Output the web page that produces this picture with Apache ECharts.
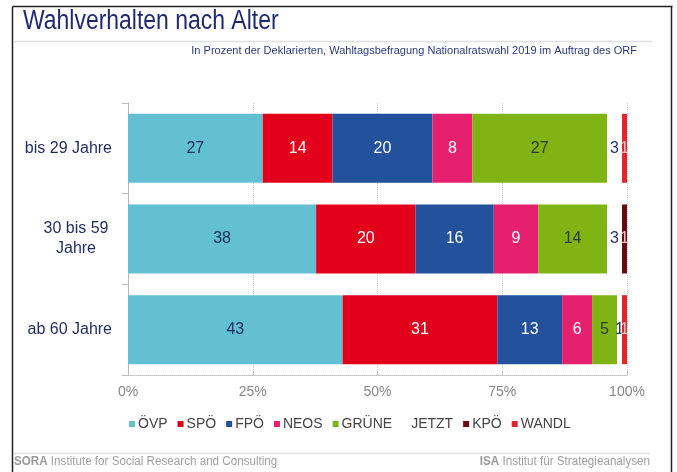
<!DOCTYPE html>
<html>
<head>
<meta charset="utf-8">
<script src="https://cdn.jsdelivr.net/npm/echarts@6/dist/echarts.min.js"></script>
<style>
  html, body { margin: 0; padding: 0; background: #fff; }
  #chart { width: 677px; height: 472px; }
</style>
</head>
<body>
<div id="chart"></div>
<script>
// age groups, top to bottom
const ageGroups = ['bis 29 Jahre', '30 bis 59 Jahre', 'ab 60 Jahre'];
const parties = ['ÖVP', 'SPÖ', 'FPÖ', 'NEOS', 'GRÜNE', 'JETZT', 'KPÖ', 'WANDL'];

// shares in % per age group
const oevp  = [27, 37.7, 43];
const spoe  = [14, 19.9, 31];
const fpoe  = [20, 15.7, 13];
const neos  = [8, 8.9, 6];
const gruene = [27, 13.8, 5];
const jetzt = [3, 3, 1];
const kpoe  = [0, 1, 0];
const wandl = [1, 0, 1];

const xTicks = [0, 25, 50, 75, 100];

const partyValues = [oevp, spoe, fpoe, neos, gruene, jetzt, kpoe, wandl];
const partyColors = ['#62c0d2', '#e2001a', '#23519c', '#e4206f', '#7fb414', '#ffffff', '#650b12', '#e3262c'];
const labelColors = ['#1f3160', '#ffffff', '#ffffff', '#ffffff', '#2c3b34', '#26356a', '#f3c4c4', '#f3c4c4'];

const chart = echarts.init(document.getElementById('chart'));

const series = parties.map((p, i) => ({
    name: p,
    type: 'bar',
    stack: 'total',
    barWidth: 69,
    data: partyValues[i],
    itemStyle: { color: partyColors[i] },
    label: {
        show: true,
        position: 'inside',
        color: labelColors[i],
        fontSize: 16,
        fontFamily: 'Liberation Sans',
        formatter: (d) => d.value > 0 ? Math.round(d.value) : ''
    },
    emphasis: { disabled: true }
}));

chart.setOption({
    animation: false,
    grid: { left: 128, right: 50, top: 103, bottom: 97, containLabel: false },
    legend: {
        data: parties,
        left: 124,
        top: 412,
        icon: 'rect',
        itemWidth: 6,
        itemHeight: 6,
        itemGap: 10,
        textStyle: { fontSize: 14, color: '#444', fontFamily: 'Liberation Sans', padding: [0, 0, 0, -2] }
    },
    xAxis: {
        type: 'value',
        min: 0,
        max: 100,
        interval: 25,
        axisLine: { show: true, lineStyle: { color: '#bbb', type: 'dotted' } },
        axisTick: { show: true, inside: true, length: 4, lineStyle: { color: '#bbb' } },
        splitLine: { show: true, lineStyle: { color: '#ccc', type: 'dotted' } },
        axisLabel: {
            margin: 10,
            fontSize: 14,
            color: '#888',
            fontFamily: 'Liberation Sans',
            formatter: (v) => xTicks.includes(v) ? v + '%' : ''
        }
    },
    yAxis: {
        type: 'category',
        data: ageGroups,
        inverse: true,
        axisLine: { show: true, lineStyle: { color: '#bbb' } },
        axisTick: { show: true, length: 6, lineStyle: { color: '#bbb' } },
        axisLabel: {
            margin: 16,
            fontSize: 16,
            color: '#1f2a5c',
            fontFamily: 'Liberation Sans',
            formatter: (v) => v === '30 bis 59 Jahre' ? '{c|30 bis 59}\n{c|Jahre}' : v,
            rich: { c: { width: 72, align: 'center', fontSize: 16, color: '#1f2a5c', fontFamily: 'Liberation Sans', lineHeight: 20 } }
        }
    },
    graphic: [
        // frame
        { type: 'line', shape: { x1: 12.5, y1: 6.5, x2: 672.5, y2: 6.5 }, style: { stroke: '#222', lineWidth: 1.5 } },
        { type: 'line', shape: { x1: 12.5, y1: 6.5, x2: 12.5, y2: 472 }, style: { stroke: '#222', lineWidth: 1.5 } },
        { type: 'line', shape: { x1: 671.5, y1: 6.5, x2: 671.5, y2: 472 }, style: { stroke: '#222', lineWidth: 1.5 } },
        // title + rule
        {
            type: 'text', x: 23, y: 8, scaleX: 0.85,
            style: { text: 'Wahlverhalten nach Alter', fontSize: 27, fontFamily: 'Liberation Sans', fill: '#1f2b6e' }
        },
        { type: 'line', shape: { x1: 14, y1: 41.5, x2: 652, y2: 41.5 }, style: { stroke: '#e0e0e0', lineWidth: 1.5 } },
        {
            type: 'text', x: 637, y: 46, scaleX: 1.05,
            style: {
                text: 'In Prozent der Deklarierten, Wahltagsbefragung Nationalratswahl 2019 im Auftrag des ORF',
                fontSize: 10.5, fontFamily: 'Liberation Sans', fill: '#2a3a7a', align: 'right'
            }
        },
        // footer
        { type: 'line', shape: { x1: 14, y1: 453.5, x2: 650, y2: 453.5 }, style: { stroke: '#e2e2e2', lineWidth: 1.5 } },
        {
            type: 'text', x: 14, y: 456, scaleX: 0.97,
            style: {
                text: '{b|SORA} Institute for Social Research and Consulting',
                fontSize: 12, fontFamily: 'Liberation Sans', fill: '#a0a0a0',
                rich: { b: { fontWeight: 'bold', fontSize: 12, fill: '#999', fontFamily: 'Liberation Sans' } }
            }
        },
        {
            type: 'text', x: 650, y: 456, scaleX: 0.97,
            style: {
                text: '{b|ISA} Institut für Strategieanalysen',
                fontSize: 12, fontFamily: 'Liberation Sans', fill: '#a0a0a0', align: 'right',
                rich: { b: { fontWeight: 'bold', fontSize: 12, fill: '#999', fontFamily: 'Liberation Sans' } }
            }
        }
    ],
    series: series
});
</script>
</body>
</html>
